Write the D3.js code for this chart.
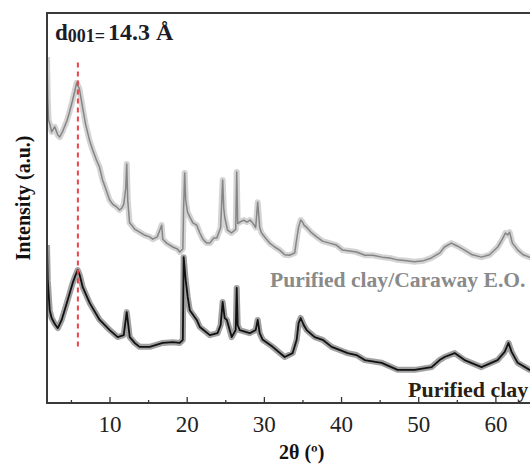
<!DOCTYPE html>
<html>
<head>
<meta charset="utf-8">
<script src="https://cdn.jsdelivr.net/npm/d3@7"></script>
<style>
  html, body { margin: 0; padding: 0; background: #fff; }
  svg { display: block; }
  text { font-family: "Liberation Serif", "Times New Roman", serif; }
</style>
</head>
<body>
<svg id="chart" width="530" height="465"></svg>
<script>
// ---- Data (2θ in degrees, intensity in arbitrary units) ----
const grayTheta = [1.9, 2.0, 2.1, 2.3, 2.5, 2.9, 3.3, 3.55, 3.9, 4.5, 4.8, 5.2, 5.5, 5.75, 6.1, 6.5, 6.9, 7.4, 7.8, 8.3, 8.7, 9.1, 9.5, 10.0, 10.4, 10.9, 11.3, 11.6, 11.85, 12.1, 12.23, 12.36, 12.6, 12.9, 13.3, 13.9, 14.6, 15.2, 15.6, 16.2, 16.76, 16.9, 17.4, 18.2, 18.8, 19.1, 19.5, 19.6, 19.74, 19.87, 20.1, 20.4, 20.8, 21.3, 21.7, 22.1, 22.6, 23.0, 23.5, 23.9, 24.4, 24.66, 24.8, 24.92, 25.3, 25.8, 26.35, 26.48, 26.61, 26.9, 27.4, 27.8, 28.2, 28.55, 28.94, 29.2, 29.46, 29.7, 30.2, 30.75, 31.4, 32.05, 32.7, 33.3, 33.7, 34.0, 34.25, 34.5, 34.77, 35.0, 35.2, 35.5, 36.2, 36.84, 37.6, 38.5, 39.4, 40.2, 41.1, 42.0, 43.1, 44.1, 45.3, 46.3, 47.3, 48.5, 49.5, 50.7, 51.7, 52.8, 53.4, 54.3, 55.1, 56.0, 57.0, 58.2, 59.25, 60.3, 60.9, 61.3, 61.6, 61.84, 62.2, 62.9, 63.6, 64.4, 65.0];
const grayIntensity = [88.7, 77.7, 72.6, 71.3, 69.5, 70.8, 68.7, 68.2, 69.5, 72.5, 74.5, 77.5, 80.0, 82.1, 80.5, 75.9, 71.5, 67.4, 65.0, 62.3, 60.5, 57.2, 55.0, 52.1, 51.0, 50.3, 49.5, 50.0, 51.0, 55.0, 61.3, 52.0, 46.2, 45.5, 44.5, 43.8, 43.0, 42.6, 42.0, 42.6, 45.6, 42.0, 41.0, 40.0, 39.5, 38.7, 39.5, 50.0, 59.0, 52.0, 49.0, 47.7, 46.2, 45.6, 43.6, 42.0, 41.0, 41.0, 42.3, 42.3, 45.0, 57.2, 50.0, 47.7, 44.3, 43.6, 44.5, 59.2, 46.0, 46.4, 46.9, 46.4, 46.9, 46.2, 45.0, 51.5, 45.0, 43.6, 42.3, 41.0, 40.0, 39.2, 38.0, 37.9, 38.2, 38.5, 42.0, 45.1, 46.9, 46.4, 45.6, 45.1, 43.6, 42.6, 41.5, 41.0, 40.5, 39.2, 39.0, 38.7, 37.9, 37.9, 37.4, 37.2, 36.7, 36.5, 36.2, 36.5, 37.2, 38.5, 40.0, 41.0, 40.2, 39.2, 38.0, 37.4, 38.0, 40.0, 42.0, 43.6, 43.1, 43.8, 41.0, 39.2, 38.0, 37.4, 37.2];

const blackTheta = [1.9, 2.0, 2.25, 2.5, 2.9, 3.3, 3.8, 4.46, 5.23, 5.6, 5.88, 6.14, 6.53, 7.44, 8.73, 10.03, 11.06, 11.84, 12.23, 12.62, 13.26, 13.9, 15.2, 16.9, 18.2, 19.1, 19.5, 19.61, 19.87, 20.13, 20.4, 21.3, 21.7, 23.0, 24.0, 24.4, 24.66, 24.92, 25.2, 25.83, 26.35, 26.48, 26.61, 26.87, 28.16, 28.94, 29.2, 29.46, 29.85, 31.14, 32.69, 33.73, 34.25, 34.5, 34.77, 35.16, 35.54, 36.58, 37.62, 38.78, 39.8, 40.85, 42.0, 43.06, 45.26, 47.33, 49.53, 51.74, 52.77, 53.42, 54.72, 56.0, 58.2, 60.28, 61.2, 61.7, 62.1, 62.88, 64.43, 65.0];
const blackIntensity = [40.5, 31.5, 23.8, 21.8, 20.3, 19.2, 21.3, 25.6, 30.8, 32.8, 34.1, 32.8, 29.7, 25.6, 21.3, 18.7, 16.9, 17.4, 23.3, 16.9, 15.4, 14.4, 14.4, 15.4, 15.6, 15.4, 16.2, 37.4, 31.5, 27.2, 23.8, 21.3, 19.5, 17.4, 17.9, 20.0, 25.9, 21.8, 21.3, 16.9, 18.7, 29.5, 20.0, 18.7, 17.9, 18.7, 21.3, 17.9, 16.2, 14.4, 11.8, 12.8, 16.2, 20.5, 21.8, 20.0, 18.7, 16.9, 16.2, 14.4, 13.6, 12.8, 12.3, 11.0, 10.3, 8.5, 8.5, 9.2, 11.0, 11.8, 12.8, 11.0, 9.2, 11.0, 13.1, 15.4, 13.1, 10.3, 8.5, 8.2];

const majorTicks = [10, 20, 30, 40, 50, 60];
const minorTicks = [5, 15, 25, 35, 45, 55, 65];
const d001Theta = 5.9;
const seriesLabels = ["Purified clay/Caraway E.O.", "Purified clay"];

// ---- Layout ----
const svg = d3.select("#chart");
const mLeft = 47, mRight = 534, mTop = 13, mBottom = 403;

const x = d3.scaleLinear().domain([1.9, 65]).range([mLeft, mRight]);
const y = d3.scaleLinear().domain([0, 100]).range([mBottom, mTop]);

svg.append("defs").append("clipPath").attr("id", "plotclip")
  .append("rect").attr("x", mLeft).attr("y", mTop).attr("width", mRight - mLeft).attr("height", mBottom - mTop);

const plot = svg.append("g").attr("clip-path", "url(#plotclip)");

const line = d3.line().x(d => x(d[0])).y(d => y(d[1]));
const grayData = grayTheta.map((t, i) => [t, grayIntensity[i]]);
const blackData = blackTheta.map((t, i) => [t, blackIntensity[i]]);

function trace(data, color, bandW, bandOp, coreW) {
  plot.append("path").datum(data).attr("d", line)
    .attr("fill", "none").attr("stroke", color).attr("stroke-width", bandW)
    .attr("stroke-opacity", bandOp).attr("stroke-linejoin", "round");
  plot.append("path").datum(data).attr("d", line)
    .attr("fill", "none").attr("stroke", color).attr("stroke-width", coreW)
    .attr("stroke-linejoin", "round");
}
trace(grayData, "#858585", 6, 0.35, 1.5);
trace(blackData, "#111111", 6, 0.4, 1.8);

// red dashed d001 line
plot.append("line")
  .attr("x1", x(d001Theta)).attr("x2", x(d001Theta))
  .attr("y1", y(87.3)).attr("y2", y(13.6))
  .attr("stroke", "#e8434a").attr("stroke-width", 2)
  .attr("stroke-dasharray", "5,4");

// ---- Axes ----
const xAxis = d3.axisBottom(x).tickValues(majorTicks).tickSize(-6).tickPadding(13)
  .tickFormat(d3.format("d"));
const gx = svg.append("g").attr("transform", `translate(0,${mBottom})`).call(xAxis);
gx.select(".domain").remove();
gx.selectAll(".tick line").attr("stroke", "#333").attr("stroke-width", 1.3);
gx.selectAll(".tick text").attr("font-size", 23).attr("fill", "#222")
  .style("font-family", "'Liberation Serif', serif");

const gxm = svg.append("g").attr("transform", `translate(0,${mBottom})`)
  .call(d3.axisBottom(x).tickValues(minorTicks).tickSize(-3).tickFormat(""));
gxm.select(".domain").remove();
gxm.selectAll(".tick line").attr("stroke", "#333").attr("stroke-width", 1.3);

// frame
svg.append("path")
  .attr("d", `M${mRight},${mTop}H${mLeft}V${mBottom}H${mRight}`)
  .attr("fill", "none").attr("stroke", "#3a3a3a").attr("stroke-width", 2);

// axis titles
svg.append("text")
  .attr("x", x(34.9)).attr("y", 459)
  .attr("text-anchor", "middle").attr("font-size", 20).attr("font-weight", "bold")
  .attr("fill", "#111").text("2θ (º)");

svg.append("text")
  .attr("transform", `translate(30,${(mTop + mBottom) / 2 - 10}) rotate(-90)`)
  .attr("text-anchor", "middle").attr("font-size", 20).attr("font-weight", "bold")
  .attr("fill", "#111").text("Intensity (a.u.)");

// series labels
svg.append("text")
  .attr("x", 270).attr("y", 287)
  .attr("font-size", 21.6).attr("font-weight", "bold").attr("fill", "#8a8a8a")
  .text(seriesLabels[0]);
svg.append("text")
  .attr("x", 408).attr("y", 397)
  .attr("font-size", 22).attr("font-weight", "bold").attr("fill", "#2a1f12")
  .text(seriesLabels[1]);

// d001 annotation
const ann = svg.append("text").attr("x", 55).attr("y", 40)
  .attr("font-weight", "bold").attr("fill", "#1c1c28");
ann.append("tspan").attr("font-size", 23).text("d");
ann.append("tspan").attr("font-size", 18).attr("dy", 2).text("001=");
ann.append("tspan").attr("font-size", 24).attr("dy", -2).attr("dx", 3).text("14.3 Å");
</script>
</body>
</html>
